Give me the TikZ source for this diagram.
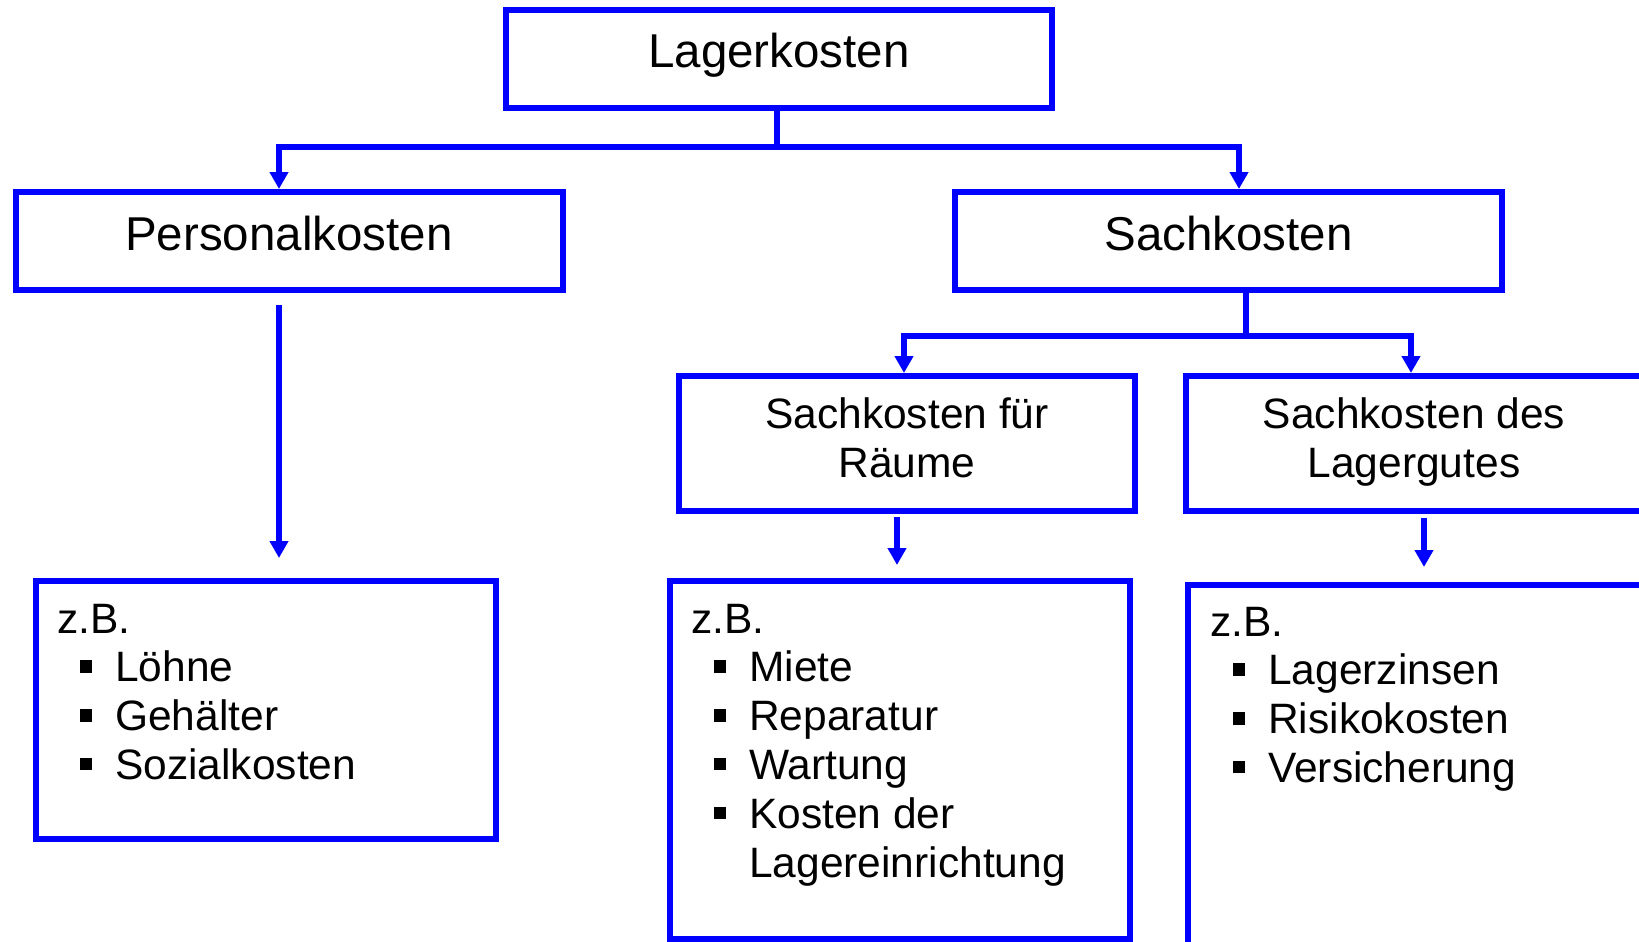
\documentclass[tikz,border=0pt]{standalone}
\usepackage{fontspec}
\setmainfont{Liberation Sans}
\usetikzlibrary{arrows.meta}

\definecolor{lineblue}{RGB}{0,0,255}

% list helpers: bullet square and multi-line blocks whose baseline is the first line
\newcommand{\bul}{\hspace*{22.5pt}\rule[9pt]{12.5pt}{12.5pt}\hspace*{23pt}}
\newcommand{\contd}{\hspace*{58pt}}
\newcommand{\listblock}[1]{\vtop{\baselineskip=48.8pt\lineskip=0pt\lineskiplimit=-100pt #1}}
\newcommand{\twoline}[2]{\vtop{\baselineskip=49pt\lineskip=0pt\lineskiplimit=-100pt
  \halign{\hfil##\hfil\cr #1\cr #2\cr}}}

\tikzset{
  box/.style={draw=lineblue, line width=6pt, rectangle, inner sep=0pt},
  conn/.style={draw=lineblue, line width=5.5pt, line join=miter},
  tip/.style={-{Triangle[width=18pt,length=17pt]}},
  twotips/.style={{Triangle[width=18pt,length=17pt]}-{Triangle[width=18pt,length=17pt]}},
  title/.style={font=\fontsize{47.5pt}{57pt}\selectfont, anchor=base, inner sep=0pt},
  subtitle/.style={font=\fontsize{42.5pt}{49pt}\selectfont, anchor=base, inner sep=0pt},
  listtext/.style={font=\fontsize{42.5pt}{49pt}\selectfont, anchor=base west, inner sep=0pt},
}

\begin{document}
\begin{tikzpicture}[x=1pt,y=-1pt]
\clip (0,0) rectangle (1639,942);
\fill[white] (0,0) rectangle (1639,942);

% boxes
\node[box, minimum width=546pt, minimum height=98.5pt] (lk)  at (779,59) {};
\node[box, minimum width=547pt, minimum height=98pt]   (pk)  at (289.5,241) {};
\node[box, minimum width=547pt, minimum height=98pt]   (sk)  at (1228.5,241) {};
\node[box, minimum width=456pt, minimum height=135pt]  (sfr) at (907,443.5) {};
\node[box, minimum width=456pt, minimum height=135pt]  (sdl) at (1414,443.5) {};
\node[box, minimum width=460pt, minimum height=258pt]  (b1)  at (266,710) {};
\node[box, minimum width=460pt, minimum height=358pt]  (b2)  at (900,760) {};
\node[box, minimum width=460pt, minimum height=400pt]  (b3)  at (1418,785) {};

% box titles
\node[title] (lkt) at (779,67)    {Lagerkosten};
\node[title] (pkt) at (289,250)   {Personalkosten};
\node[title] (skt) at (1228.5,250) {Sachkosten};
\node[subtitle] (sfrt) at (907,428)  {\twoline{Sachkosten für}{Räume}};
\node[subtitle] (sdlt) at (1414,428) {\twoline{Sachkosten des}{Lagergutes}};

% example lists
\node[listtext] (l1) at (57,633) {\listblock{\hbox{z.B.}\hbox{\bul Löhne}\hbox{\bul Gehälter}\hbox{\bul Sozialkosten}}};
\node[listtext] (l2) at (691,633) {\listblock{\hbox{z.B.}\hbox{\bul Miete}\hbox{\bul Reparatur}\hbox{\bul Wartung}\hbox{\bul Kosten der}\hbox{\contd Lagereinrichtung}}};
\node[listtext] (l3) at (1210,636) {\listblock{\hbox{z.B.}\hbox{\bul Lagerzinsen}\hbox{\bul Risikokosten}\hbox{\bul Versicherung}}};

% first split: Lagerkosten -> Personalkosten / Sachkosten
\coordinate (j1) at (777,147);
\coordinate (a1) at (279,147);
\coordinate (a2) at (1239,147);
\draw[conn] (lk.south -| j1) -- (j1);
\draw[conn, twotips] (a1 |- pk.north) -- (a1) -- (a2) -- (a2 |- sk.north);

% second split: Sachkosten -> two kinds
\coordinate (j2) at (1246,336);
\coordinate (c1) at (904,336);
\coordinate (c2) at (1411,336);
\draw[conn] (sk.south -| j2) -- (j2);
\draw[conn, twotips] (c1 |- sfr.north) -- (c1) -- (c2) -- (c2 |- sdl.north);

% arrows towards the example boxes
\coordinate (p0) at (279,305);
\coordinate (p1) at (279,558);
\coordinate (q0) at (897,517);
\coordinate (q1) at (897,565);
\coordinate (r0) at (1424,518);
\coordinate (r1) at (1424,567);
\draw[conn, tip] (p0) -- (p1);
\draw[conn, tip] (q0) -- (q1);
\draw[conn, tip] (r0) -- (r1);
\end{tikzpicture}
\end{document}
